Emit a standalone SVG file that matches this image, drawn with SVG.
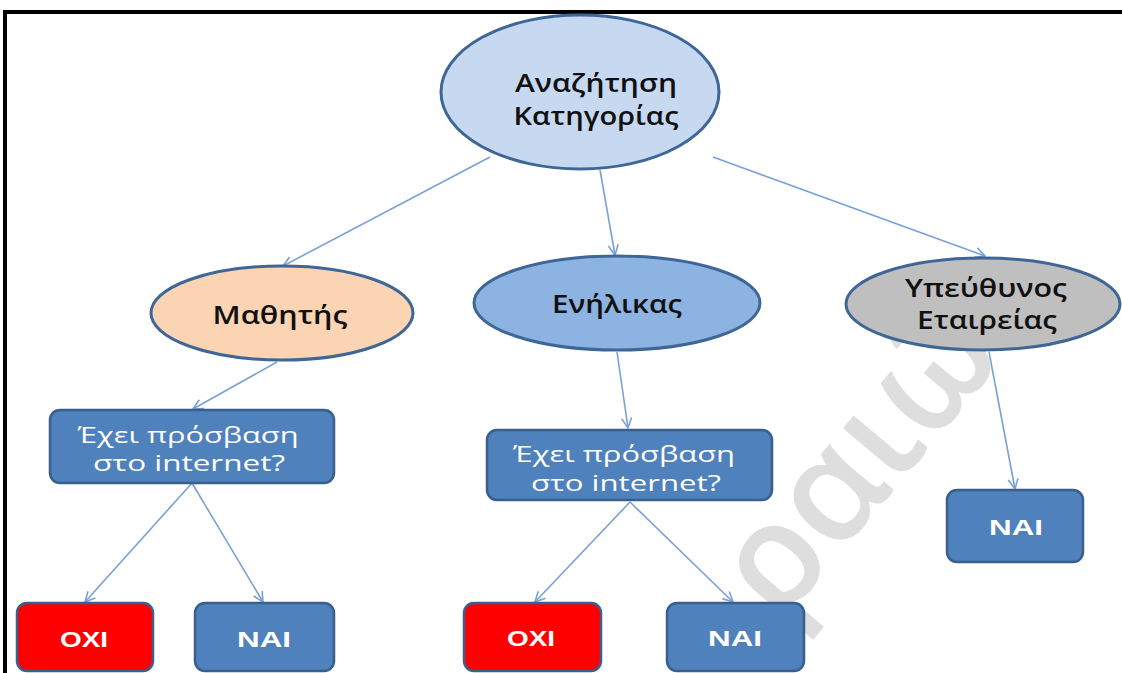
<svg xmlns="http://www.w3.org/2000/svg" width="1122" height="673" viewBox="0 0 1122 673">
<style>
.ell{stroke:#3E6696;stroke-width:3}
.box{fill:#4F81BD;stroke:#395F8D;stroke-width:2.5}
.red{fill:#FF0000;stroke:#395F8D;stroke-width:2.5}
.lbl{font-family:"Open Sans","Noto Sans","DejaVu Sans",sans-serif;font-size:25px;font-weight:600;fill:#111;text-anchor:middle}
.q{font-family:"Open Sans","Noto Sans","DejaVu Sans",sans-serif;font-size:22px;font-weight:500;fill:#fff;text-anchor:middle}
.yn{font-family:"Liberation Sans",Arial,sans-serif;font-size:22px;font-weight:bold;fill:#fff;text-anchor:middle}
.wm{font-family:"Open Sans","Noto Sans",sans-serif;font-size:145px;font-weight:600;fill:#dedede}
.edge{stroke:#7AA1D3;stroke-width:1.6;fill:none;marker-end:url(#arr)}
</style>
<defs>
<marker id="arr" viewBox="0 0 12 12" refX="11" refY="6" markerWidth="12" markerHeight="12" markerUnits="userSpaceOnUse" orient="auto">
<path d="M1,1 L11,6 L1,11" fill="none" stroke="#7AA1D3" stroke-width="1.6"/>
</marker>
</defs>
<rect width="1122" height="673" fill="#fff"/>
<path d="M5,673 V12 H1122" fill="none" stroke="#000" stroke-width="4"/>
<text class="wm" transform="translate(780,625) rotate(-50)">ραιώ</text>
<g id="connectors">
<line class="edge" x1="490" y1="157" x2="283" y2="266"/>
<line class="edge" x1="600" y1="170" x2="615" y2="255"/>
<line class="edge" x1="713" y1="157" x2="985" y2="256"/>
<line class="edge" x1="277" y1="362" x2="193" y2="409"/>
<line class="edge" x1="617" y1="352" x2="628" y2="428"/>
<line class="edge" x1="989" y1="352" x2="1015" y2="489"/>
<line class="edge" x1="192" y1="483" x2="85" y2="602"/>
<line class="edge" x1="192" y1="483" x2="263" y2="602"/>
<line class="edge" x1="630" y1="502" x2="535" y2="602"/>
<line class="edge" x1="630" y1="502" x2="733" y2="602"/>
</g>
<g id="root">
<ellipse class="ell" cx="580" cy="92" rx="139" ry="77" fill="#C6D9F1"/>
<text class="lbl" x="596" y="92" textLength="162" lengthAdjust="spacingAndGlyphs">Αναζήτηση</text>
<text class="lbl" x="596" y="125" textLength="165" lengthAdjust="spacingAndGlyphs">Κατηγορίας</text>
</g>
<g id="student">
<ellipse class="ell" cx="282" cy="313" rx="131" ry="47" fill="#FBD4B4"/>
<text class="lbl" x="280" y="324" textLength="135" lengthAdjust="spacingAndGlyphs">Μαθητής</text>
</g>
<g id="adult">
<ellipse class="ell" cx="617" cy="303" rx="143" ry="47" fill="#8DB3E2"/>
<text class="lbl" x="617" y="313" textLength="130" lengthAdjust="spacingAndGlyphs">Ενήλικας</text>
</g>
<g id="company">
<ellipse class="ell" cx="983" cy="304" rx="137" ry="46" fill="#BFBFBF"/>
<text class="lbl" x="986" y="297" textLength="162" lengthAdjust="spacingAndGlyphs">Υπεύθυνος</text>
<text class="lbl" x="987" y="329" textLength="140" lengthAdjust="spacingAndGlyphs">Εταιρείας</text>
</g>
<g id="q-student">
<rect class="box" x="50" y="410" width="284" height="73" rx="10"/>
<text class="q" x="188" y="443" textLength="221" lengthAdjust="spacingAndGlyphs">Έχει πρόσβαση</text>
<text class="q" x="189" y="471" textLength="192" lengthAdjust="spacingAndGlyphs">στο internet?</text>
</g>
<g id="q-adult">
<rect class="box" x="487" y="430" width="285" height="70" rx="10"/>
<text class="q" x="624" y="462" textLength="222" lengthAdjust="spacingAndGlyphs">Έχει πρόσβαση</text>
<text class="q" x="626" y="491" textLength="190" lengthAdjust="spacingAndGlyphs">στο internet?</text>
</g>
<g id="no-student">
<rect class="red" x="17" y="603" width="136" height="68" rx="10"/>
<text class="yn" x="84" y="647" textLength="48" lengthAdjust="spacingAndGlyphs">OXI</text>
</g>
<g id="yes-student">
<rect class="box" x="195" y="603" width="139" height="68" rx="10"/>
<text class="yn" x="264" y="647" textLength="54" lengthAdjust="spacingAndGlyphs">NAI</text>
</g>
<g id="no-adult">
<rect class="red" x="464" y="603" width="137" height="68" rx="10"/>
<text class="yn" x="531" y="646" textLength="48" lengthAdjust="spacingAndGlyphs">OXI</text>
</g>
<g id="yes-adult">
<rect class="box" x="667" y="603" width="137" height="68" rx="10"/>
<text class="yn" x="735" y="646" textLength="54" lengthAdjust="spacingAndGlyphs">NAI</text>
</g>
<g id="yes-company">
<rect class="box" x="947" y="490" width="136" height="72" rx="10"/>
<text class="yn" x="1016" y="535" textLength="54" lengthAdjust="spacingAndGlyphs">NAI</text>
</g>
</svg>
